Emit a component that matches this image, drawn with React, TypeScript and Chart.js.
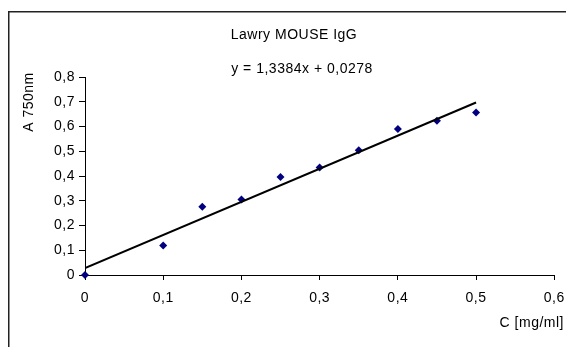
import React, { useEffect, useRef } from "react";
import { Chart, registerables } from "chart.js";

Chart.register(...registerables);

const chartTitle = "Lawry MOUSE IgG";
const xAxisTitle = "C [mg/ml]";
const yAxisTitle = "A 750nm";
const concentrations = [0, 0.1, 0.15, 0.2, 0.25, 0.3, 0.35, 0.4, 0.45, 0.5];
const absorbance = [0, 0.119, 0.276, 0.305, 0.396, 0.434, 0.504, 0.59, 0.623, 0.657];
const trendSlope = 1.3384;
const trendIntercept = 0.0278;
const trendRange = [0, 0.5];
const xTickRange = [0, 0.6];
const yTickRange = [0, 0.8];
const tickStep = 0.1;

const FONT = "'Liberation Sans', Arial, sans-serif";
const FONT_SIZE = 14;
const SPACING = "0.5px";
const fmt = (v: number) => Number(v.toFixed(2)).toString().replace(".", ",");
function fmt4(v: number) {
  return v.toFixed(4).replace(".", ",");
}
const equationText = `y = ${fmt4(trendSlope)}x + ${fmt4(trendIntercept)}`;

export default function App() {
  const ref = useRef<HTMLCanvasElement | null>(null);
  useEffect(() => {
    if (!ref.current) return;
    const decor = {
      id: "decor",
      beforeDraw(chart: any) {
        chart.ctx.letterSpacing = SPACING;
      },
      afterDraw(chart: any) {
        const ctx = chart.ctx as CanvasRenderingContext2D;
        ctx.save();
        ctx.letterSpacing = SPACING;
        ctx.fillStyle = "#000";
        ctx.font = `${FONT_SIZE}px ${FONT}`;
        ctx.textAlign = "center";
        ctx.textBaseline = "alphabetic";
        ctx.fillText(chartTitle, 286, 31);
        ctx.fillText(equationText, 294, 65);
        ctx.textAlign = "right";
        ctx.textBaseline = "middle";
        ctx.fillText(xAxisTitle, 556, 315);
        ctx.save();
        ctx.translate(21, 94);
        ctx.rotate(-Math.PI / 2);
        ctx.textAlign = "center";
        ctx.fillText(yAxisTitle, 0, 0);
        ctx.restore();
        ctx.strokeStyle = "#222";
        ctx.lineWidth = 1.5;
        ctx.beginPath();
        ctx.moveTo(0.75, 339);
        ctx.lineTo(0.75, 3.75);
        ctx.lineTo(566, 3.75);
        ctx.stroke();
        ctx.restore();
      },
    };
    const chart = new Chart(ref.current, {
      type: "scatter",
      data: {
        datasets: [
          {
            type: "line",
            data: trendRange.map((x) => ({ x, y: trendSlope * x + trendIntercept })),
            borderColor: "#000",
            borderWidth: 2,
            pointRadius: 0,
            fill: false,
          } as any,
          {
            data: concentrations.map((x, i) => ({ x, y: absorbance[i] })),
            pointStyle: "rectRot",
            pointRadius: 4,
            backgroundColor: "#000080",
            borderColor: "#000080",
            borderWidth: 0,
            clip: false,
          },
        ],
      },
      options: {
        animation: false,
        responsive: false,
        devicePixelRatio: 1,
        layout: { padding: { left: 0, top: 69, right: 19, bottom: 0 } },
        plugins: { legend: { display: false }, tooltip: { enabled: false }, title: { display: false } },
        scales: {
          x: {
            type: "linear",
            min: xTickRange[0],
            max: xTickRange[1],
            afterFit: (s: any) => {
              s.height = 72;
            },
            ticks: {
              stepSize: tickStep,
              color: "#000",
              font: { family: FONT, size: FONT_SIZE },
              padding: 10,
              callback: (v: any) => fmt(Number(v)),
            },
            grid: { display: true, drawOnChartArea: false, drawTicks: true, tickLength: 5, color: "#000" },
            border: { display: true, color: "#000", width: 1 },
          },
          y: {
            type: "linear",
            min: yTickRange[0],
            max: yTickRange[1],
            afterFit: (s: any) => {
              s.width = 77;
            },
            ticks: {
              stepSize: tickStep,
              color: "#000",
              font: { family: FONT, size: FONT_SIZE },
              padding: 4,
              callback: (v: any) => fmt(Number(v)),
            },
            grid: { display: true, drawOnChartArea: false, drawTicks: true, tickLength: 6, color: "#000" },
            border: { display: true, color: "#000", width: 1 },
          },
        },
      },
      plugins: [decor],
    } as any);
    return () => chart.destroy();
  }, []);
  return <canvas ref={ref} width={566} height={339} style={{ display: "block" }} />;
}
